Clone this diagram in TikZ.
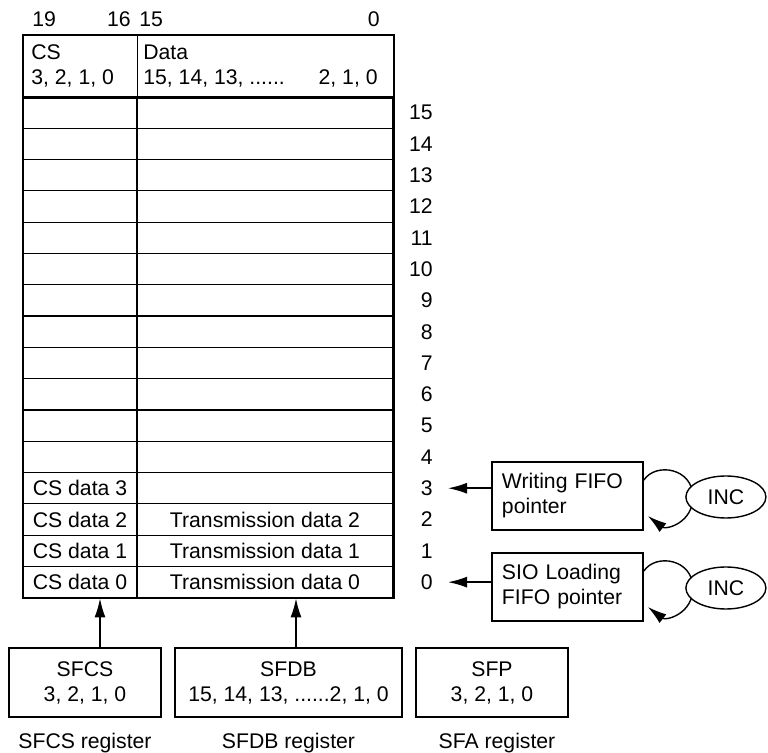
\documentclass[tikz,border=0pt]{standalone}
\usepackage{fontspec}
\setmainfont{Liberation Sans}
\usetikzlibrary{arrows.meta,calc,shapes.geometric}

\tikzset{
  cell/.style={draw, line width=0.6pt, inner sep=0pt, minimum height=15.65pt},
  frame/.style={draw, line width=0.9pt},
  regbox/.style={draw, line width=0.9pt, align=center, inner sep=0pt,
                 minimum height=34.5pt},
  ptrbox/.style={draw, line width=0.9pt, align=left, inner xsep=5pt,
                 text width=65.5pt, minimum height=34pt},
  incnode/.style={draw, ellipse, fill=white, line width=0.7pt, inner sep=0pt,
                  minimum width=40pt, minimum height=21pt},
  bits/.style={inner sep=0pt}
}

\begin{document}
\begin{tikzpicture}[x=0.5pt, y=-0.5pt, >={Latex[length=9.5pt,width=5.5pt]},
                    font=\fontsize{10.6}{12.5}\selectfont]

  \useasboundingbox (0,0) rectangle (768,753);

  % bit numbers over the table
  \node[bits, anchor=base west] (b19) at (32,27) {19};
  \node[bits, anchor=base east] (b16) at (131,27) {16};
  \node[bits, anchor=base west] (b15) at (139,27) {15};
  \node[bits, anchor=base east] (b0)  at (380,27) {0};

  % the table head
  \node[cell, anchor=north west, minimum width=57pt, minimum height=31pt] (cshead) at (23,35) {};
  \node[cell, anchor=north west, minimum width=128pt, minimum height=31pt] (datahead) at (137,35) {};
  \node[bits, anchor=base west] (cstitle) at (31,60) {CS};
  \node[bits, anchor=base west] (csbits) at (31,85) {3, 2, 1, 0};
  \node[bits, anchor=base west] (datatitle) at (143,60) {Data};
  \node[bits, anchor=base west] (databits) at (143,85) {15, 14, 13, ......};
  \node[bits, anchor=base east] (datalow) at (378,85) {2, 1, 0};

  % the empty rows
  \foreach \r in {4,...,15}{
    \pgfmathsetmacro\yc{97+(15.5-\r)*31.3}
    \node[cell, minimum width=57pt] (cs\r) at (80,\yc) {};
    \node[cell, minimum width=128pt] (data\r) at (265,\yc) {};
    \node[bits, anchor=east] (num\r) at (433,\yc) {\r};
  }

  % the filled rows
  \foreach \r/\dat in {0/Transmission data 0,1/Transmission data 1,2/Transmission data 2,3/{}}{
    \pgfmathsetmacro\yc{97+(15.5-\r)*31.3}
    \node[cell, minimum width=57pt] (cs\r) at (80,\yc) {CS data \r};
    \node[cell, minimum width=128pt] (data\r) at (265,\yc) {\dat};
    \node[bits, anchor=east] (num\r) at (433,\yc) {\r};
  }

  % outer frame
  \draw[frame] (cshead.north west) rectangle (data0.south east);
  \draw[frame] (cshead.north west) rectangle (datahead.south east);

  % pointers
  \node[ptrbox] (wptr) at (567.5,496) {Writing FIFO\\pointer};
  \node[ptrbox] (sptr) at (567.5,587) {SIO Loading\\FIFO pointer};
  \draw[->, line width=0.8pt] (wptr.west |- num3.east) -- ([xshift=7.5pt]num3.east);
  \draw[->, line width=0.8pt] (sptr.west |- num0.east) -- ([xshift=7.5pt]num0.east);

  % increment loops, the ellipses go on top
  \foreach \p/\n in {wptr/winc, sptr/sinc}{
    \draw[->, line width=0.7pt] ($(\p.east)+(0,-16)$) .. controls +(12,-18) and +(0,-29)
          .. ($(\p.east)+(49,1)$) .. controls +(0,26) and +(18,14) .. ($(\p.east)+(4,20)$);
    \node[incnode] (\n) at ($(\p.east)+(82,1)$) {INC};
  }

  % registers
  \node[regbox, minimum width=76pt] (sfcs) at (85,682.5) {SFCS\\3, 2, 1, 0};
  \node[regbox, minimum width=113.5pt] (sfdb) at (288.5,682.5) {SFDB\\15, 14, 13, ......2, 1, 0};
  \node[regbox, minimum width=76pt] (sfp) at (492,682.5) {SFP\\3, 2, 1, 0};

  \node (sfcslbl) at (85,743) {SFCS register};
  \node (sfdblbl) at (288.5,743) {SFDB register};
  \node (sfalbl) at (497,743) {SFA register};

  % register writes into the FIFO
  \coordinate (csup) at ($(sfcs.north)+(15,0)$);
  \coordinate (dbup) at ($(sfdb.north)+(7.5,0)$);
  \draw[->, line width=0.8pt] (csup) -- (csup |- cs0.south);
  \draw[->, line width=0.8pt] (dbup) -- (dbup |- data0.south);

\end{tikzpicture}
\end{document}
